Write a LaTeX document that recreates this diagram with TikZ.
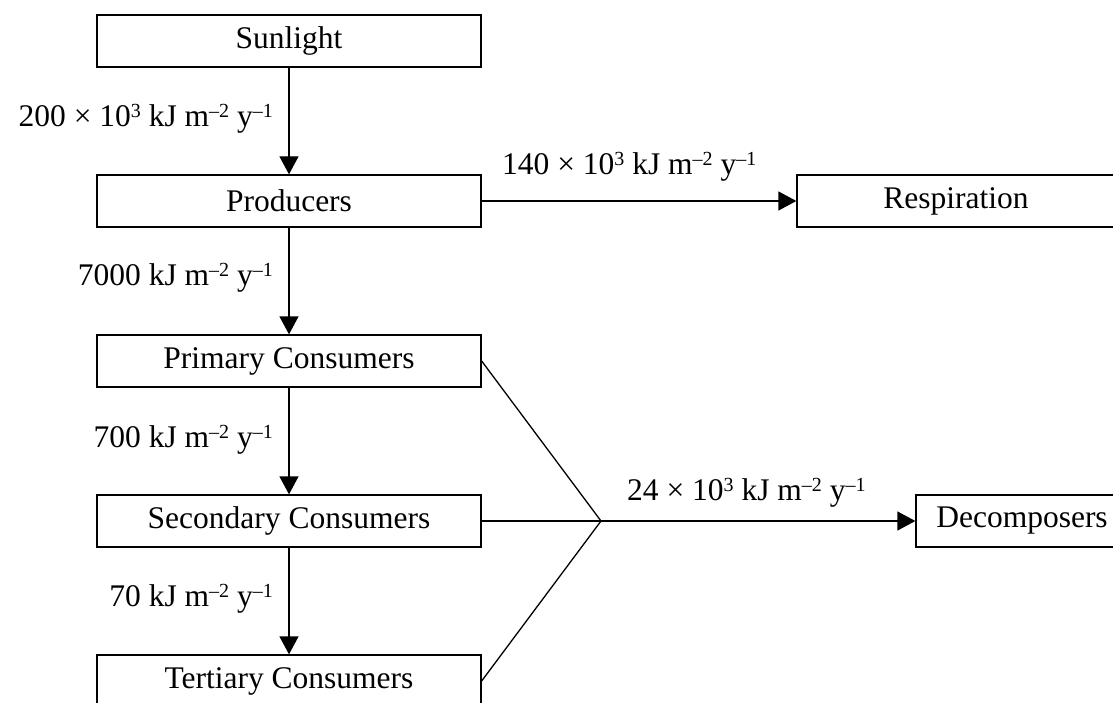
\documentclass[tikz,border=0pt]{standalone}
\usepackage{fontspec}
\setmainfont{Liberation Serif}
\usetikzlibrary{arrows.meta}
\newcommand{\sups}[1]{\raisebox{9pt}{\fontsize{20}{20}\selectfont #1}}
\newcommand{\unitkj}{kJ m\sups{–2} y\sups{–1}}
\begin{document}
\begin{tikzpicture}[x=1pt,y=-1pt,
  box/.style={draw, line width=1.3pt, minimum width=384pt, minimum height=52pt, inner sep=0pt, font=\fontsize{31.5}{36}\selectfont},
  sidebox/.style={draw, line width=1.3pt, minimum height=52pt, inner sep=0pt, font=\fontsize{31.5}{36}\selectfont},
  flow/.style={line width=1.3pt, -{Triangle[length=18pt,width=19pt]}},
  merge/.style={line width=1.3pt},
  lbl/.style={inner sep=0pt, font=\fontsize{31.5}{36}\selectfont}]
\useasboundingbox (0,0) rectangle (1113,703);
\clip (0,0) rectangle (1113,703);
\node[box] (sun) at (289,41) {Sunlight};
\node[box] (prod) at (289,201) {Producers};
\node[box] (prim) at (289,361) {Primary Consumers};
\node[box] (sec) at (289,521) {Secondary Consumers};
\node[box] (tert) at (289,681) {Tertiary Consumers};
\node[sidebox, minimum width=318pt] (resp) at (956,201) {Respiration};
\node[sidebox, minimum width=212pt] (dec) at (1022,521) {Decomposers};
\coordinate (j) at (601,521);
\draw[flow] (sun) -- (prod);
\draw[flow] (prod) -- (prim);
\draw[flow] (prim) -- (sec);
\draw[flow] (sec) -- (tert);
\draw[flow] (prod.east) -- (resp.west);
\draw[merge] (prim.east) -- (j);
\draw[merge] (sec.east) -- (j);
\draw[merge] (tert.east) -- (j);
\draw[flow] (j) -- (dec.west);
\node[lbl, anchor=base east] (l1) at (273,126.5) {200 × 10\sups{3} \unitkj};
\node[lbl, anchor=base east] (l2) at (273,285.5) {7000 \unitkj};
\node[lbl, anchor=base east] (l3) at (273,447) {700 \unitkj};
\node[lbl, anchor=base east] (l4) at (273,606.5) {70 \unitkj};
\node[lbl, anchor=base west] (l5) at (502,175) {140 × 10\sups{3} \unitkj};
\node[lbl, anchor=base west] (l6) at (627,500) {24 × 10\sups{3} \unitkj};
\end{tikzpicture}
\end{document}
